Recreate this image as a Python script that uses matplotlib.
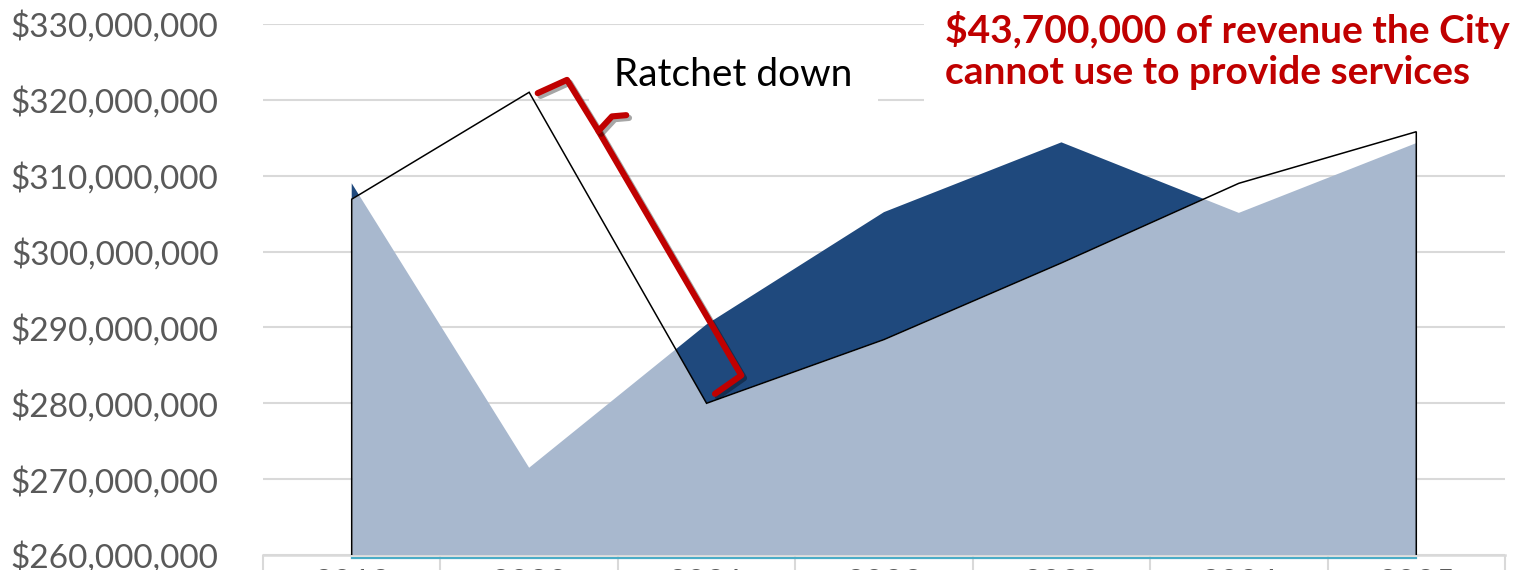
import matplotlib

matplotlib.use("Agg")
import matplotlib.pyplot as plt
import matplotlib.patheffects as pe
import matplotlib.transforms as mtransforms
import numpy as np
from matplotlib.path import Path
from matplotlib.ticker import FuncFormatter, FixedLocator

plt.rcParams["font.family"] = ["Lato", "DejaVu Sans"]

# --- data (millions of dollars) ---
years = ["2019", "2020", "2021", "2022", "2023", "2024", "2025"]
# black-outlined series (ratcheted limit)
ratchet_limit = [306.9, 321.0, 280.0, 288.4, 298.5, 309.0, 315.8]
# dark blue series (revenue)
revenue = [309.0, 271.5, 290.4, 305.2, 314.4, 305.1, 314.3]

y_min, y_max = 260, 330
dark_blue = "#1F497D"
light_blue = "#A8B8CE"
red = "#C00000"
grid_gray = "#D9D9D9"
label_gray = "#595959"

fig = plt.figure(figsize=(15.17, 5.70), dpi=100)
ax = fig.add_axes([263 / 1517, 15 / 570, 1242 / 1517, 531 / 570])

x = np.arange(len(years))
lim = np.array(ratchet_limit)
rev = np.array(revenue)

# dark part: revenue above the limit
ax.fill_between(x, lim, rev, where=rev > lim, interpolate=True, color=dark_blue, lw=0, zorder=2)
# light part: area under both lines (limit area clipped by revenue area)
light = ax.fill_between(x, y_min, lim, color=light_blue, lw=0, zorder=3)
rev_area = Path(np.r_[[[x[0], y_min]], np.c_[x, rev], [[x[-1], y_min], [x[0], y_min]]], closed=True)
light.set_clip_path(rev_area, ax.transData)

# outline of the limit series (no fill)
ax.plot(np.r_[x[0], x, x[-1]], np.r_[y_min, lim, y_min], color="black", lw=1.1,
        solid_joinstyle="miter", zorder=4)

# thin teal line just under the category axis
teal_tr = mtransforms.offset_copy(ax.transData, fig=fig, x=0, y=-3, units="dots")
ax.plot([x[0], x[-1]], [y_min, y_min], color="#4BACC6", lw=1.6, transform=teal_tr,
        clip_on=False, zorder=1)

ax.set_xlim(-0.5, len(years) - 0.5)
ax.set_ylim(y_min, y_max)
ax.set_yticks(np.arange(y_min, y_max + 1, 10))
ax.yaxis.set_major_formatter(FuncFormatter(lambda v, _: f"${v * 1e6:,.0f}"))
ax.tick_params(axis="y", length=0, pad=32, labelsize=24, labelcolor=label_gray)
ax.grid(axis="y", color=grid_gray, lw=1.5, zorder=0)
ax.set_axisbelow(True)

ax.set_xticks(x)
ax.set_xticklabels(years)
ax.xaxis.set_minor_locator(FixedLocator(np.arange(-0.5, len(years), 1.0)))
ax.tick_params(axis="x", which="major", length=0, pad=10, labelsize=24, labelcolor=label_gray)
ax.tick_params(axis="x", which="minor", length=25, width=1.5, color=grid_gray, direction="out")

for side in ["top", "right", "left"]:
    ax.spines[side].set_visible(False)
ax.spines["bottom"].set_color(grid_gray)
ax.spines["bottom"].set_linewidth(1.8)

# annotations
ax.text(2.15, 323.3, "Ratchet down", fontsize=28, color="black", ha="center", va="center",
        bbox=dict(boxstyle="square,pad=0.65", fc="white", ec="none"), zorder=5)
ax.text(3.345, 326.5, "$43,700,000 of revenue the City\ncannot use to provide services",
        fontsize=28, fontweight="bold", color=red, ha="left", va="center", linespacing=1.2,
        bbox=dict(boxstyle="square,pad=0.55", fc="white", ec="none"), zorder=5,
        clip_on=False)

# brace along the drop from 2020 to 2021, built in pixels relative to that segment
fig.canvas.draw()
p1 = ax.transData.transform((x[1], lim[1]))
p2 = ax.transData.transform((x[2], lim[2]))
d = (p2 - p1) / np.hypot(*(p2 - p1))
n = np.array([-d[1], d[0]])
brace_main = [(5, 7), (8, 39), (68, 41), (351, 44), (354, 12)]
brace_tip = [(68, 41), (62, 60), (68, 73)]


def to_data(pts):
    disp = np.array([p1 + a * d + b * n for a, b in pts])
    return ax.transData.inverted().transform(disp)


shadow = [pe.SimpleLineShadow(offset=(2, -2), alpha=0.35), pe.Normal()]
for pts in (brace_main, brace_tip):
    xy = to_data(pts)
    ax.plot(xy[:, 0], xy[:, 1], color=red, lw=4.4, solid_joinstyle="round",
            solid_capstyle="round", zorder=6, path_effects=shadow)

fig.savefig("out.png", dpi=100)
